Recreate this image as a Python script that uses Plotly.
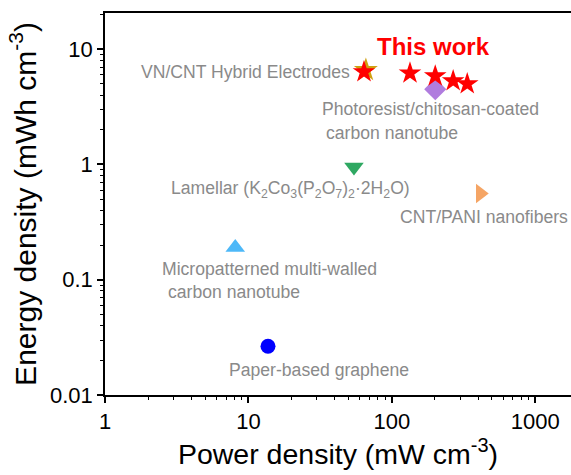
import plotly.graph_objects as go

# ---- data ----
this_work_power = [64, 134, 201, 268, 336]
this_work_energy = [6.35, 6.2, 5.85, 5.3, 5.0]

ref_names = ["VN/CNT Hybrid Electrodes", "Photoresist/chitosan-coated carbon nanotube",
             "Lamellar (K2Co3(P2O7)2·2H2O)", "CNT/PANI nanofibers",
             "Micropatterned multi-walled carbon nanotube", "Paper-based graphene"]
ref_power = [66, 201, 54.5, 414, 8.1, 13.7]
ref_energy = [6.6, 4.5, 0.95, 0.56, 0.19, 0.0265]
ref_symbols = ["star", "diamond", "triangle-down", "triangle-right", "triangle-up", "circle"]
ref_colors = ["#CFA010", "#B07CDE", "#2FA862", "#F5A565", "#4DB8F8", "#0000FF"]
ref_sizes = [18, 17, 17, 17, 17, 15]

x_ticks = [1, 10, 100, 1000]
y_ticks = [0.01, 0.1, 1, 10]

fig = go.Figure()
for n, px_, py_, s, c, sz in zip(ref_names, ref_power, ref_energy, ref_symbols, ref_colors, ref_sizes):
    fig.add_trace(go.Scatter(x=[px_], y=[py_], mode="markers", name=n,
                             marker=dict(symbol=s, color=c, size=sz, line=dict(width=0))))
fig.add_trace(go.Scatter(x=this_work_power, y=this_work_energy, mode="markers", name="This work",
                         marker=dict(symbol="star", color="#FF0000", size=17, line=dict(width=0))))

gray = "#8a8a8a"
ann_font = dict(family="Liberation Sans, Arial", size=17.6, color=gray)
labels = [
    ("VN/CNT Hybrid Electrodes", 1.724, 0.802, "right"),
    ("Photoresist/chitosan-coated", 1.500, 0.480, "left"),
    ("carbon nanotube", 1.528, 0.270, "left"),
    ("Lamellar (K<sub>2</sub>Co<sub>3</sub>(P<sub>2</sub>O<sub>7</sub>)<sub>2</sub>·2H<sub>2</sub>O)", 1.291, -0.218, "center"),
    ("CNT/PANI nanofibers", 2.045, -0.453, "left"),
    ("Micropatterned multi-walled", 0.384, -0.907, "left"),
    ("carbon nanotube", 0.426, -1.107, "left"),
    ("Paper-based graphene", 1.493, -1.779, "center"),
]
for t, x, y, a in labels:
    fig.add_annotation(x=x, y=y, xref="x", yref="y", text=t, showarrow=False,
                       xanchor=a, yanchor="middle", font=ann_font)
fig.add_annotation(x=2.289, y=1.02, xref="x", yref="y", text="<b>This work</b>", showarrow=False,
                   xanchor="center", yanchor="middle",
                   font=dict(family="Liberation Sans, Arial", size=24, color="#FF0000"))

axis_common = dict(type="log", showgrid=False, zeroline=False, showline=True, linecolor="black",
                   linewidth=1.5, ticks="outside", ticklen=6, tickwidth=1.5, tickcolor="black",
                   automargin=False,
                   tickfont=dict(family="Liberation Sans, Arial", size=22, color="black"),
                   minor=dict(ticks="outside", ticklen=3, tickwidth=1.2, tickcolor="black",
                              dtick="D1", showgrid=False))
fig.update_xaxes(**axis_common, range=[0, 3.25], tickvals=x_ticks,
                 ticktext=[str(v) for v in x_ticks], mirror=True,
                 title=dict(text="Power density (mW cm<sup>-3</sup>)", standoff=10,
                            font=dict(family="Liberation Sans, Arial", size=28.5, color="black")))
fig.update_yaxes(**axis_common, range=[-2, 1.314], tickvals=y_ticks,
                 ticktext=["0.01", "0.1", "1", "10"], mirror=False,
                 title=dict(text="Energy density (mWh cm<sup>-3</sup>)", standoff=5,
                            font=dict(family="Liberation Sans, Arial", size=30, color="black")))

fig.update_layout(width=571, height=475, margin=dict(l=105, r=0, t=13, b=80),
                  plot_bgcolor="white", paper_bgcolor="white", showlegend=False)
fig.write_html("out.html", config={"displayModeBar": False},
               post_script="document.body.style.margin='0';")
